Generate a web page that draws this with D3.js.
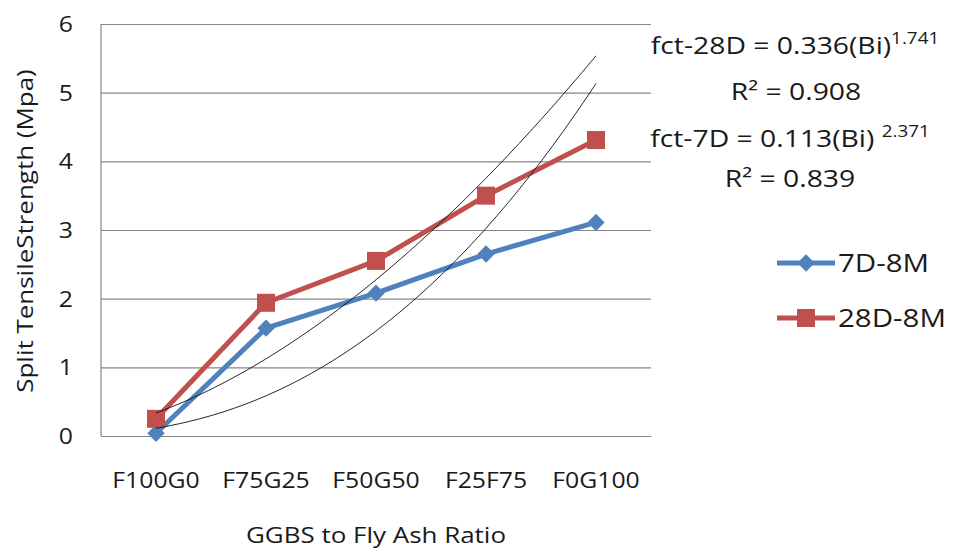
<!DOCTYPE html>
<html>
<head>
<meta charset="utf-8">
<script src="https://cdn.jsdelivr.net/npm/d3@7/dist/d3.min.js"></script>
<style>
  body { margin: 0; background: #fff; }
  text { font-family: "Open Sans", sans-serif; fill: #1a1a1a; }
</style>
</head>
<body>
<div id="chart"></div>
<script>
// data
var categories = ['F100G0', 'F75G25', 'F50G50', 'F25F75', 'F0G100'];
var values7D = [0.04, 1.57, 2.08, 2.65, 3.11];
var values28D = [0.25, 1.94, 2.55, 3.50, 4.31];
var yTicks = [0, 1, 2, 3, 4, 5, 6];
var seriesNames = ['7D-8M', '28D-8M'];
// power trend lines from the printed equations: y = a * x^b
var trend28D = { a: 0.336, b: 1.741 };
var trend7D = { a: 0.113, b: 2.371 };

var width = 955, height = 551;
var plot = { left: 101, right: 651, top: 24, bottom: 436 };
var SX = 1.18; // the source picture is stretched sideways
var blue = '#4f81bd', red = '#c0504d', grid = '#868686';

var svg = d3.select('#chart').append('svg')
  .attr('width', width)
  .attr('height', height);

var x = d3.scaleBand().domain(categories).range([plot.left, plot.right]);
var y = d3.scaleLinear().domain([0, 6]).range([plot.bottom, plot.top]);
var xTrend = d3.scaleLinear().domain([1, 5])
  .range([x(categories[0]) + x.bandwidth() / 2, x(categories[4]) + x.bandwidth() / 2]);

function stretchedText(g, tx, ty, str, size, anchor, rot) {
  return g.append('text')
    .attr('transform', 'translate(' + tx + ',' + ty + ')' + (rot ? ' rotate(' + rot + ')' : '') + ' scale(' + SX + ',1)')
    .attr('text-anchor', anchor || 'middle')
    .style('font-size', size + 'px')
    .text(str);
}

// grid + y axis
var yAxis = svg.append('g')
  .attr('transform', 'translate(' + plot.left + ',0)')
  .call(d3.axisLeft(y).tickValues(yTicks).tickSize(-(plot.right - plot.left)).tickFormat(d3.format('d')));
yAxis.select('.domain').remove();
yAxis.selectAll('.tick line').attr('stroke', grid).attr('stroke-width', 1.2);
yAxis.selectAll('.tick text')
  .attr('x', null)
  .attr('dy', '0.35em')
  .attr('fill', '#1a1a1a')
  .attr('text-anchor', 'end')
  .attr('transform', 'translate(-28,0) scale(' + SX + ',1)')
  .style('font-size', '21px')
  .style('font-family', '"Open Sans", sans-serif');

svg.append('line')
  .attr('x1', plot.left).attr('x2', plot.left)
  .attr('y1', plot.top).attr('y2', plot.bottom)
  .attr('stroke', grid).attr('stroke-width', 1.2);

// x axis labels
var xAxis = svg.append('g')
  .attr('transform', 'translate(0,' + plot.bottom + ')')
  .call(d3.axisBottom(x).tickSize(0));
xAxis.select('.domain').attr('stroke', grid).attr('stroke-width', 1.2);
xAxis.selectAll('.tick text')
  .attr('y', null)
  .attr('dy', null)
  .attr('fill', '#1a1a1a')
  .attr('transform', 'translate(0,52) scale(' + SX + ',1)')
  .style('font-size', '21px')
  .style('font-family', '"Open Sans", sans-serif');

// axis titles
stretchedText(svg, 376, 543, 'GGBS to Fly Ash Ratio', 22, 'middle');
stretchedText(svg, 33, 231, 'Split TensileStrength (Mpa)', 22, 'middle', -90);

// series
var line = d3.line()
  .x(function (d, i) { return x(categories[i]) + x.bandwidth() / 2; })
  .y(function (d) { return y(d); });

svg.append('path').datum(values7D)
  .attr('d', line).attr('fill', 'none')
  .attr('stroke', blue).attr('stroke-width', 5).attr('stroke-linejoin', 'round');
svg.append('path').datum(values28D)
  .attr('d', line).attr('fill', 'none')
  .attr('stroke', red).attr('stroke-width', 5).attr('stroke-linejoin', 'round');

var diamond = d3.symbol().type(d3.symbolSquare).size(150);
svg.selectAll('.m7').data(values7D).enter().append('path')
  .attr('d', diamond)
  .attr('transform', function (d, i) {
    return 'translate(' + (x(categories[i]) + x.bandwidth() / 2) + ',' + y(d) + ') rotate(45)';
  })
  .attr('fill', blue);

svg.selectAll('.m28').data(values28D).enter().append('rect')
  .attr('x', function (d, i) { return x(categories[i]) + x.bandwidth() / 2 - 9; })
  .attr('y', function (d) { return y(d) - 9; })
  .attr('width', 18).attr('height', 18)
  .attr('fill', red);

// trend lines
var trendLine = d3.line()
  .x(function (d) { return xTrend(d[0]); })
  .y(function (d) { return y(d[1]); })
  .curve(d3.curveBasis);
[trend28D, trend7D].forEach(function (t) {
  var pts = d3.range(1, 5.001, 0.1).map(function (v) { return [v, t.a * Math.pow(v, t.b)]; });
  svg.append('path').datum(pts)
    .attr('d', trendLine)
    .attr('fill', 'none')
    .attr('stroke', '#111')
    .attr('stroke-width', 0.9);
});

// equations
function equation(cx, cy, main, sup, gap) {
  var t = svg.append('text')
    .attr('transform', 'translate(' + cx + ',' + cy + ') scale(' + SX + ',1)')
    .attr('text-anchor', 'middle')
    .style('font-size', '24px');
  t.append('tspan').text(main);
  if (sup) {
    t.append('tspan').attr('dy', -10).attr('dx', gap || 0).style('font-size', '16px').text(sup);
  }
}
equation(795, 54, 'fct-28D = 0.336(Bi)', '1.741', 0);
equation(796, 100, 'R\u00b2 = 0.908');
equation(790, 147, 'fct-7D = 0.113(Bi) ', '2.371', 0);
equation(790, 187, 'R\u00b2 = 0.839');

// legend
var legend = svg.append('g');
[[blue, 263, 'diamond'], [red, 318, 'square']].forEach(function (row, i) {
  legend.append('line')
    .attr('x1', 777).attr('x2', 835)
    .attr('y1', row[1]).attr('y2', row[1])
    .attr('stroke', row[0]).attr('stroke-width', 5);
  if (row[2] === 'diamond') {
    legend.append('path').attr('d', diamond)
      .attr('transform', 'translate(806,' + row[1] + ') rotate(45)')
      .attr('fill', row[0]);
  } else {
    legend.append('rect')
      .attr('x', 797).attr('y', row[1] - 9)
      .attr('width', 18).attr('height', 18)
      .attr('fill', row[0]);
  }
  stretchedText(legend, 838, row[1] + 9, seriesNames[i], 25, 'start');
});
</script>
</body>
</html>
